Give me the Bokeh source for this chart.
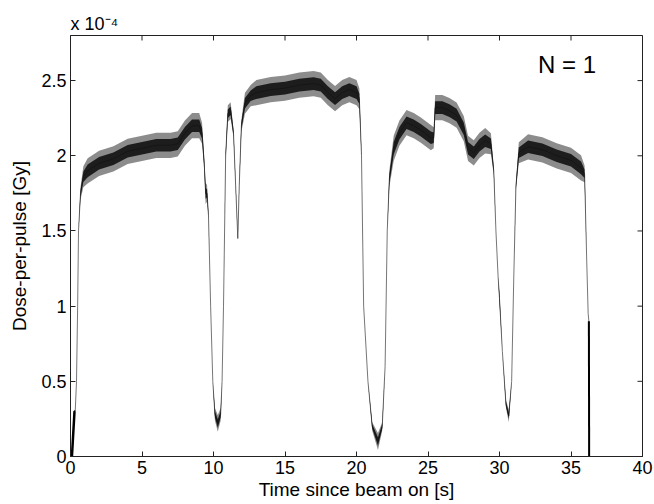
import math
from bokeh.plotting import figure
from bokeh.models import Range1d, FixedTicker, Label
from bokeh.embed import file_html
from bokeh.resources import INLINE

# ---- data (dose in units of 1e-4 Gy) ----
time = [0.10, 0.28, 0.33, 0.42, 0.50, 0.56, 0.70, 0.90, 1.2, 2.0, 3.0, 4.0, 5.0, 6.0, 7.0, 7.5,
        8.0, 8.5, 9.0, 9.2, 9.35, 9.45, 9.55, 9.65, 9.8, 9.95, 10.1, 10.3, 10.5, 10.6, 10.7,
        10.85, 11.0, 11.2, 11.4, 11.55, 11.7, 11.8, 11.95, 12.2, 12.6, 13.0, 14.0, 15.0, 16.0,
        17.0, 17.5, 18.0, 18.5, 19.0, 19.5, 20.0, 20.2, 20.35, 20.5, 20.8, 21.1, 21.5, 21.8,
        22.0, 22.15, 22.3, 22.6, 23.0, 23.5, 24.0, 24.5, 25.2, 25.4, 25.5, 26.0, 26.5, 27.0,
        27.5, 27.8, 28.2, 28.6, 29.0, 29.4, 29.6, 29.75, 29.9, 30.0, 30.2, 30.45, 30.65, 30.85,
        31.0, 31.15, 31.35, 32.0, 33.0, 34.0, 35.0, 35.7, 35.95, 36.1, 36.2, 36.25, 36.27]
dose = [0.0, 0.30, 0.30, 0.50, 1.00, 1.50, 1.75, 1.86, 1.90, 1.95, 1.98, 2.03, 2.05, 2.07, 2.07, 2.08,
        2.15, 2.20, 2.20, 2.15, 1.95, 1.75, 1.75, 1.60, 1.00, 0.50, 0.28, 0.22, 0.28, 0.50, 1.00,
        2.00, 2.28, 2.30, 2.15, 1.80, 1.45, 1.80, 2.20, 2.35, 2.40, 2.42, 2.44, 2.45, 2.47,
        2.48, 2.47, 2.42, 2.38, 2.42, 2.44, 2.42, 2.38, 2.00, 1.00, 0.50, 0.20, 0.10, 0.20,
        0.60, 1.50, 1.85, 2.05, 2.15, 2.22, 2.20, 2.17, 2.12, 2.12, 2.32, 2.32, 2.30, 2.27,
        2.18, 2.05, 2.02, 2.07, 2.10, 2.08, 1.90, 1.50, 1.20, 1.05, 0.70, 0.35, 0.27, 0.50,
        1.20, 1.80, 2.02, 2.06, 2.04, 2.00, 1.97, 1.92, 1.88, 1.30, 0.95, 0.90, 0.0]
spread = [0, 0, 0, 0, 0, 0, 0.03, 0.05, 0.06, 0.06, 0.06, 0.06, 0.06, 0.06, 0.06, 0.06,
          0.06, 0.06, 0.06, 0.05, 0.03, 0.05, 0.04, 0.01, 0, 0, 0.03, 0.04, 0.03, 0, 0,
          0.02, 0.04, 0.04, 0.02, 0.01, 0.01, 0.01, 0.03, 0.05, 0.05, 0.06, 0.06, 0.06, 0.06,
          0.06, 0.06, 0.06, 0.06, 0.06, 0.06, 0.06, 0.05, 0.01, 0, 0, 0.02, 0.04, 0.02,
          0, 0, 0.04, 0.06, 0.06, 0.06, 0.06, 0.06, 0.06, 0.05, 0.06, 0.06, 0.06, 0.06,
          0.06, 0.06, 0.06, 0.06, 0.06, 0.05, 0.02, 0, 0, 0.03, 0, 0.02, 0.03, 0,
          0, 0.02, 0.05, 0.06, 0.06, 0.06, 0.06, 0.06, 0.04, 0, 0, 0, 0]

x_ticks = [0, 5, 10, 15, 20, 25, 30, 35, 40]
y_ticks = [0, 0.5, 1, 1.5, 2, 2.5]
y_tick_labels = ["0", "0.5", "1", "1.5", "2", "2.5"]
x_label = "Time since beam on [s]"
y_label = "Dose-per-pulse [Gy]"
exponent_label = "x 10\u207b\u2074"
annotation = "N = 1"
X_MAX, Y_MAX = 40, 2.8
FONT = "Liberation Sans"
AX_COLOR = "#222222"

p = figure(width=654, height=504, output_backend="svg", toolbar_location=None,
           x_range=Range1d(0, X_MAX), y_range=Range1d(0, Y_MAX),
           min_border_left=70, min_border_right=12, min_border_top=35, min_border_bottom=48,
           title=exponent_label)
p.background_fill_color = "white"
p.border_fill_color = "white"
p.outline_line_color = AX_COLOR
p.outline_line_width = 1
p.xgrid.visible = False
p.ygrid.visible = False

p.title.align = "left"
p.title.offset = 0
p.title.standoff = 3
p.title.text_font = FONT
p.title.text_font_size = "18px"
p.title.text_font_style = "normal"
p.title.text_color = "black"

outer_lo = [d - 1.4 * s for d, s in zip(dose, spread)]
outer_hi = [d + 1.4 * s for d, s in zip(dose, spread)]
inner_lo = [d - 0.7 * s for d, s in zip(dose, spread)]
inner_hi = [d + 0.7 * s for d, s in zip(dose, spread)]

p.line(time, dose, line_color="#666666", line_width=0.9)
p.varea(x=time, y1=outer_lo, y2=outer_hi, fill_color="black", fill_alpha=0.45)
p.varea(x=time, y1=inner_lo, y2=inner_hi, fill_color="#111111", fill_alpha=0.9)
p.line(time[:3], dose[:3], line_color="black", line_width=2.5)
p.line(time[-2:], dose[-2:], line_color="black", line_width=2)

# mirrored inward ticks on top and right (half of each dash is clipped by the frame)
p.scatter(x=x_ticks, y=[Y_MAX] * len(x_ticks), marker="dash", size=10, angle=math.pi / 2,
          line_color=AX_COLOR, line_width=1)
p.scatter(x=[X_MAX] * len(y_ticks), y=y_ticks, marker="dash", size=10,
          line_color=AX_COLOR, line_width=1)

p.xaxis.ticker = FixedTicker(ticks=x_ticks)
p.yaxis.ticker = FixedTicker(ticks=y_ticks)
p.yaxis.major_label_overrides = {t: l for t, l in zip(y_ticks, y_tick_labels)}
for ax in (p.xaxis[0], p.yaxis[0]):
    ax.major_tick_in = 5
    ax.major_tick_out = 0
    ax.minor_tick_in = 0
    ax.minor_tick_out = 0
    ax.axis_line_color = AX_COLOR
    ax.major_tick_line_color = AX_COLOR
    ax.major_label_text_font = FONT
    ax.major_label_text_font_size = "18px"
    ax.major_label_text_color = "black"
    ax.major_label_standoff = 4
    ax.axis_label_text_font = FONT
    ax.axis_label_text_font_size = "19px"
    ax.axis_label_text_font_style = "normal"
    ax.axis_label_text_color = "black"
p.xaxis.axis_label = x_label
p.yaxis.axis_label = y_label
p.xaxis.axis_label_standoff = 2
p.yaxis.axis_label_standoff = 8

p.add_layout(Label(x=32.7, y=2.52, text=annotation,
                   text_font=FONT, text_font_size="24px", text_color="black"))

open("out.html", "w").write(file_html(p, INLINE))
